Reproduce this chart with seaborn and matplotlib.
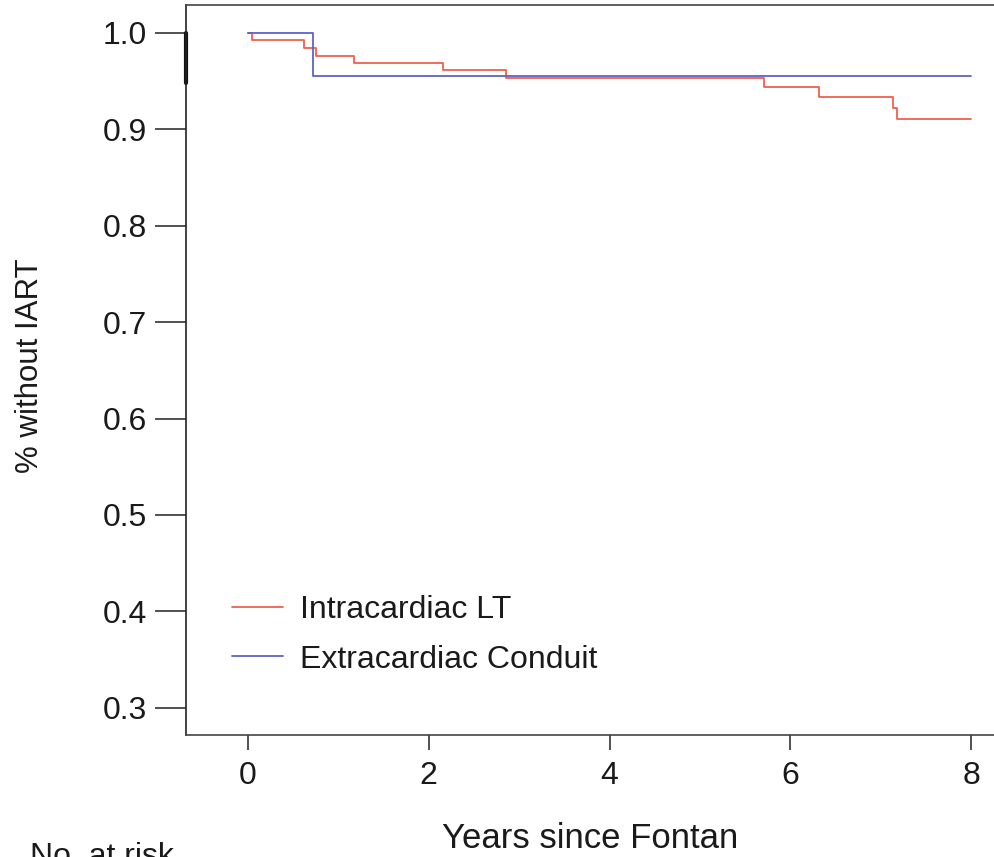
import matplotlib
matplotlib.use("Agg")
import matplotlib.pyplot as plt
import seaborn as sns
import pandas as pd

# ---- data ----
groups = ["Intracardiac LT", "Extracardiac Conduit"]
lt_time = [0.0, 0.04, 0.62, 0.75, 1.17, 2.16, 2.85, 5.71, 6.32, 7.14, 7.18, 8.0]
lt_surv = [1.0, 0.993, 0.984, 0.976, 0.969, 0.962, 0.953, 0.944, 0.934, 0.922, 0.911, 0.911]
ec_time = [0.0, 0.72, 8.0]
ec_surv = [1.0, 0.955, 0.955]
x_ticks = [0, 2, 4, 6, 8]
y_ticks = [0.3, 0.4, 0.5, 0.6, 0.7, 0.8, 0.9, 1.0]
colors = {"Intracardiac LT": "#F0604E", "Extracardiac Conduit": "#5E62C4"}

df = pd.concat([
    pd.DataFrame({"time": lt_time, "surv": lt_surv, "group": groups[0]}),
    pd.DataFrame({"time": ec_time, "surv": ec_surv, "group": groups[1]}),
], ignore_index=True)

sns.set_theme(style="white")
plt.rcParams["font.family"] = ["Liberation Sans", "DejaVu Sans"]

W, H = 994, 857
fig = plt.figure(figsize=(W / 100, H / 100), dpi=100)
left_px, right_px, top_px, bot_px = 186, 1010, 5, 735
ax = fig.add_axes([left_px / W, 1 - bot_px / H, (right_px - left_px) / W, (bot_px - top_px) / H])

sns.lineplot(data=df, x="time", y="surv", hue="group", hue_order=groups,
             palette=colors, estimator=None, sort=False, drawstyle="steps-post",
             linewidth=1.3, ax=ax)

# axis ranges in data units
ax.set_xlim(-0.686, 8.43)
ax.set_ylim(0.2718, 1.029)
ax.set_xticks(x_ticks)
ax.set_xticklabels([str(t) for t in x_ticks])
ax.set_yticks(y_ticks)
ax.set_yticklabels([f"{t:.1f}" for t in y_ticks])

fs = 23
ax.tick_params(axis="y", length=22, width=1.2, pad=6, labelsize=fs, color="#333333",
               labelcolor="#1a1a1a", left=True)
ax.tick_params(axis="x", length=10.5, width=1.2, pad=8, labelsize=fs, color="#333333",
               labelcolor="#1a1a1a", bottom=True)
for s in ax.spines.values():
    s.set_visible(True)
    s.set_color("#444444")
    s.set_linewidth(1.2)
ax.spines["left"].set_color("#222222")

# thick segment on the left axis near the top (as in reference)
ax.axvline(-0.686, ymin=(0.948 - 0.2718) / (1.029 - 0.2718), ymax=(1.0 - 0.2718) / (1.029 - 0.2718),
           color="#111111", linewidth=3, clip_on=False)

ax.set_xlabel("Years since Fontan", fontsize=25, va="center", color="#1a1a1a")
ax.xaxis.set_label_coords((590 - left_px) / (right_px - left_px), -(838 - bot_px) / (bot_px - top_px))
ax.set_ylabel("% without IART", fontsize=22.5, ha="center", va="center", color="#1a1a1a")
ax.yaxis.set_label_coords((30 - left_px) / (right_px - left_px), (bot_px - 366) / (bot_px - top_px))

handles, labels = ax.get_legend_handles_labels()
leg = ax.legend(handles, labels, loc="center left", bbox_to_anchor=(232 / W, 1 - 635 / H),
                bbox_transform=fig.transFigure, frameon=False, fontsize=fs,
                handlelength=1.6, handletextpad=0.53, labelspacing=0.6,
                borderpad=0, borderaxespad=0)
for t in leg.get_texts():
    t.set_color("#1a1a1a")

fig.text(30 / W, 1 - 842 / H, "No. at risk", fontsize=fs, ha="left", va="top", color="#1a1a1a")

fig.savefig("out.png", dpi=100)
